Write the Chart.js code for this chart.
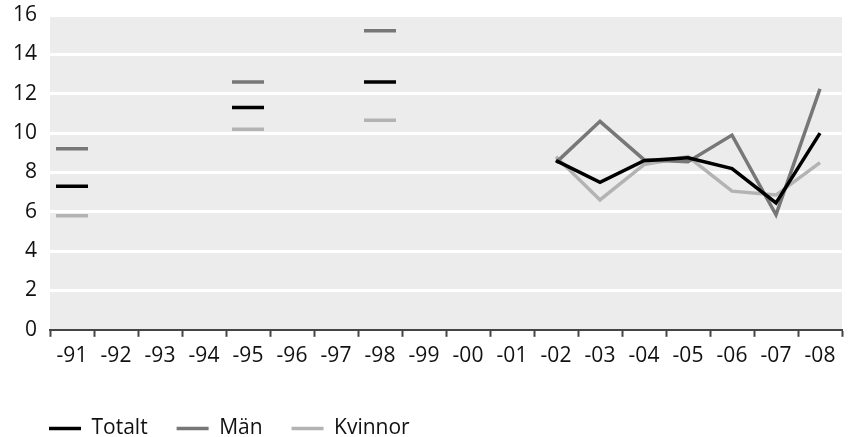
<!DOCTYPE html>
<html>
<head>
<meta charset="utf-8">
<script src="https://cdn.jsdelivr.net/npm/chart.js@4/dist/chart.umd.min.js"></script>
<style>
  html, body { margin: 0; padding: 0; background: #fff; }
  #wrap { width: 850px; height: 437px; }
</style>
</head>
<body>
<div id="wrap"><canvas id="diagram"></canvas></div>
<script>
const years = ['-91', '-92', '-93', '-94', '-95', '-96', '-97', '-98', '-99', '-00', '-01', '-02', '-03', '-04', '-05', '-06', '-07', '-08'];

const totalt  = [7.3, null, null, null, 11.3, null, null, 12.6, null, null, null, 8.6, 7.5, 8.6, 8.75, 8.2, 6.45, 10.0];
const man     = [9.2, null, null, null, 12.6, null, null, 15.2, null, null, null, 8.5, 10.6, 8.65, 8.55, 9.9, 5.85, 12.25];
const kvinnor = [5.8, null, null, null, 10.2, null, null, 10.65, null, null, null, 8.8, 6.6, 8.4, 8.8, 7.05, 6.85, 8.5];

const yTicks = [0, 2, 4, 6, 8, 10, 12, 14, 16];

const colors = {
    totalt: '#000000',
    man: '#777777',
    kvinnor: '#b3b3b3'
};

// single year points are drawn as short dashes, the yearly series as a line
const firstLineIndex = 11;

function make_dataset(label, data, color)
{
    return {
        label: label,
        data: data,
        borderColor: color,
        backgroundColor: color,
        borderWidth: 3.5,
        spanGaps: false,
        tension: 0,
        pointStyle: 'line',
        pointBorderWidth: 3.5,
        pointRadius: function(c){ return c.dataIndex < firstLineIndex ? 16 : 0; },
        pointHoverRadius: 0
    };
}

const plotBg = {
    id: 'plotBg',
    beforeDraw: function(chart){
        const a = chart.chartArea;
        const ctx = chart.ctx;
        ctx.save();
        ctx.fillStyle = '#ececec';
        ctx.fillRect(a.left, a.top, a.right - a.left, a.bottom - a.top);
        ctx.restore();
    }
};

// legend starts under the plot area, not at the page edge
const legendShift = {
    id: 'legendShift',
    afterLayout: function(chart){
        chart.legend.left += 16;
        chart.legend.right += 16;
    }
};

const font = { family: "'Open Sans', 'Noto Sans', sans-serif", size: 21 };
const yFont = { family: "'Open Sans', 'Noto Sans', sans-serif", size: 21, lineHeight: 0.2 };

new Chart(document.getElementById('diagram'), {
    type: 'line',
    data: {
        labels: years,
        datasets: [
            make_dataset('Totalt', totalt, colors.totalt),
            make_dataset('Män', man, colors.man),
            make_dataset('Kvinnor', kvinnor, colors.kvinnor)
        ]
    },
    options: {
        responsive: true,
        maintainAspectRatio: false,
        animation: false,
        layout: {
            autoPadding: false,
            padding: { left: 4, right: 8, top: 13, bottom: -12 }
        },
        scales: {
            x: {
                offset: true,
                grid: {
                    offset: true,
                    drawOnChartArea: false,
                    drawTicks: true,
                    tickLength: 7,
                    tickWidth: 2,
                    tickColor: '#444'
                },
                border: { display: true, color: '#444', width: 2 },
                ticks: { color: '#111', font: font, padding: 7, maxRotation: 0, autoSkip: false },
                afterFit: function(s){
                    s.height += 13;
                    s.paddingLeft = 0;
                    s.paddingRight = 0;
                }
            },
            y: {
                min: 0,
                max: 16,
                afterBuildTicks: function(s){ s.ticks = yTicks.map(function(v){ return { value: v }; }); },
                grid: {
                    color: function(c){ return c.tick && c.tick.value === 0 ? 'rgba(0,0,0,0)' : '#ffffff'; },
                    lineWidth: 3,
                    drawTicks: false
                },
                border: { display: false },
                ticks: { color: '#111', font: yFont, padding: 13 },
                afterFit: function(s){ s.width = 46; }
            }
        },
        plugins: {
            legend: {
                position: 'bottom',
                align: 'start',
                labels: {
                    usePointStyle: true,
                    pointStyleWidth: 32,
                    boxHeight: 10,
                    color: '#111',
                    font: font,
                    padding: 29
                }
            },
            tooltip: { enabled: false }
        }
    },
    plugins: [plotBg, legendShift]
});
</script>
</body>
</html>
